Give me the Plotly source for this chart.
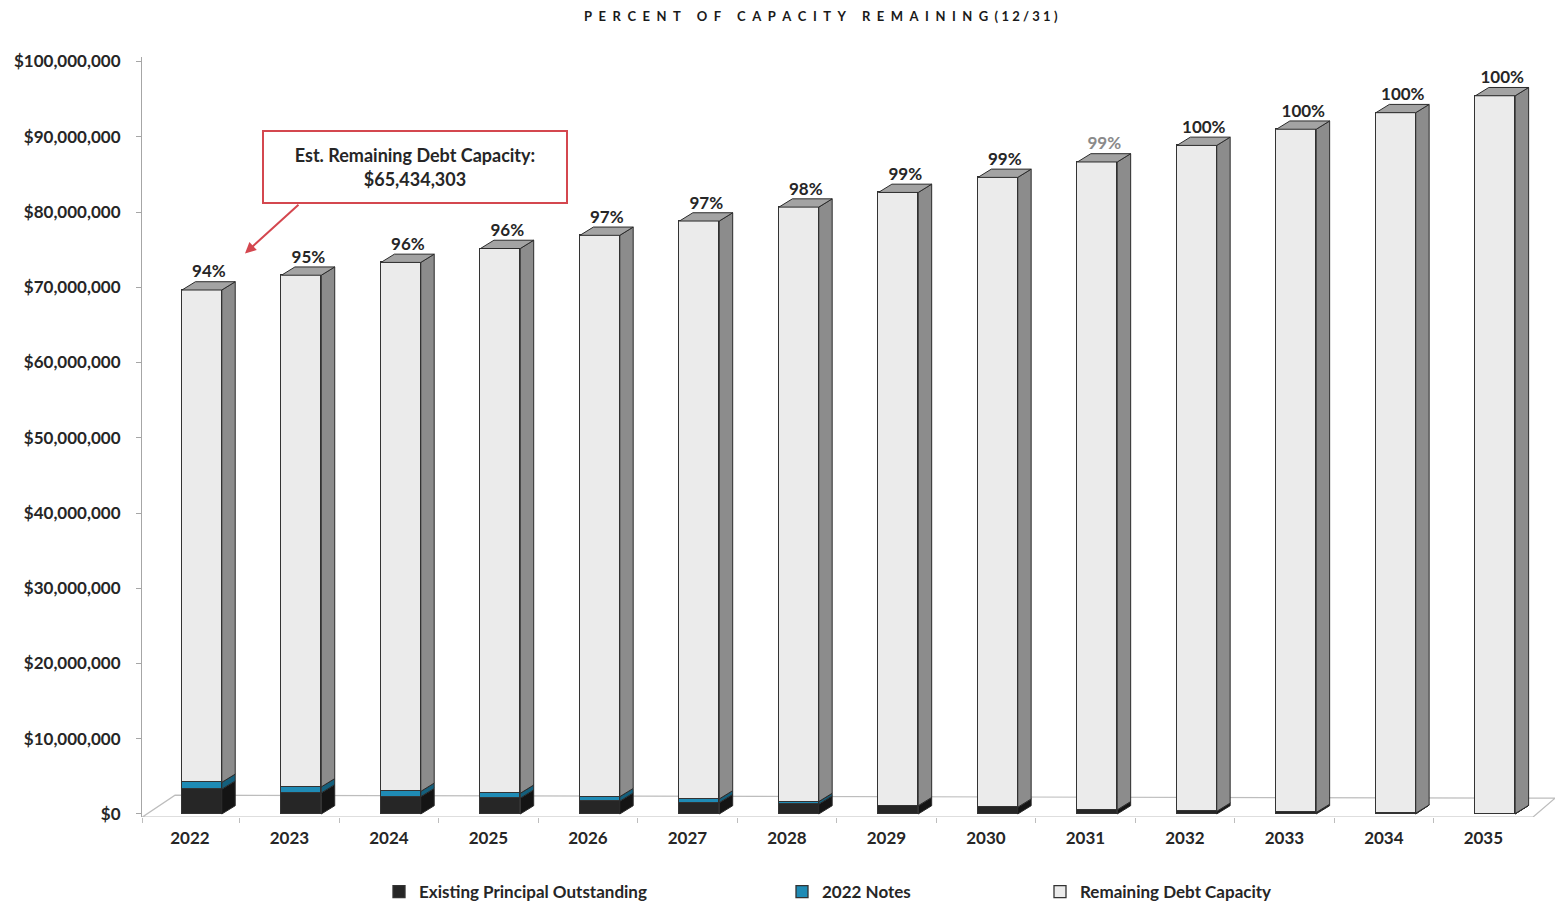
import plotly.graph_objects as go

# ---------------- data ----------------
years = ["2022", "2023", "2024", "2025", "2026", "2027", "2028",
         "2029", "2030", "2031", "2032", "2033", "2034", "2035"]
existing = [3.3e6, 2.8e6, 2.3e6, 2.1e6, 1.7e6, 1.5e6, 1.3e6,
            1.1e6, 0.9e6, 0.55e6, 0.35e6, 0.2e6, 0.1e6, 0.05e6]
notes_2022 = [0.9e6, 0.8e6, 0.7e6, 0.65e6, 0.6e6, 0.5e6, 0.35e6,
              0.0, 0.0, 0.0, 0.0, 0.0, 0.0, 0.0]
remaining = [65434303, 68.0e6, 70.3e6, 72.4e6, 74.6e6, 76.8e6, 79.0e6,
             81.5e6, 83.7e6, 86.1e6, 88.5e6, 90.8e6, 93.1e6, 95.4e6]
pct_labels = ["94%", "95%", "96%", "96%", "97%", "97%", "98%",
              "99%", "99%", "99%", "100%", "100%", "100%", "100%"]
y_ticks = [0, 10e6, 20e6, 30e6, 40e6, 50e6, 60e6, 70e6, 80e6, 90e6, 100e6]

# ---------------- styling / geometry ----------------
FONT = "Lato"
TXT = "#262626"
L_OFF = -0.08      # bar front face starts at category + L_OFF
BAR_W = 0.40       # front face width (category units)
DX = 0.135         # 3-D depth, horizontal (category units)
DY = 1.1e6         # 3-D depth, vertical (value units)
Y_MIN, Y_MAX = -0.4e6, 100.6e6
X_MIN, X_MAX = -0.482, 13.72
M_L, M_R, M_T, M_B = 142, 0, 57, 86
PLOT_H = 903 - M_T - M_B
PLOT_W = 1555 - M_L - M_R

idx = list(range(len(years)))
ex_top = [e for e in existing]
no_top = [e + n for e, n in zip(existing, notes_2022)]
tot = [e + n + r for e, n, r in zip(existing, notes_2022, remaining)]

fig = go.Figure()

series = [
    ("Existing Principal Outstanding", existing, "#262626", "#141414", "legend"),
    ("2022 Notes", notes_2022, "#1f8bb5", "#145f7c", "legend2"),
    ("Remaining Debt Capacity", remaining, "#ebebeb", "#8c8c8c", "legend3"),
]
for name, vals, col, _, lg in series:
    fig.add_trace(go.Bar(
        x=idx, y=vals, name=name, width=BAR_W, offset=L_OFF,
        marker=dict(color=col, line=dict(color="#333333", width=1.3)),
        legend=lg, hoverinfo="skip",
    ))


def side_faces(bottoms, tops):
    xs, ys = [], []
    for i, (b, t) in enumerate(zip(bottoms, tops)):
        r = idx[i] + L_OFF + BAR_W
        xs += [r, r + DX, r + DX, r, r, None]
        ys += [b, b + DY, t + DY, t, b, None]
    return xs, ys


bottoms_list = [[0] * len(idx), ex_top, no_top]
tops_list = [ex_top, no_top, tot]
for (name, vals, col, side_col, lg), bts, tps in zip(series, bottoms_list, tops_list):
    sx, sy = side_faces(bts, tps)
    fig.add_trace(go.Scatter(
        x=sx, y=sy, mode="lines", fill="toself", fillcolor=side_col,
        line=dict(color="#2b2b2b", width=1), showlegend=False, hoverinfo="skip",
    ))

# top faces
tx, ty = [], []
for i, t in enumerate(tot):
    left = idx[i] + L_OFF
    right = left + BAR_W
    tx += [left, right, right + DX, left + DX, left, None]
    ty += [t, t, t + DY, t + DY, t, None]
fig.add_trace(go.Scatter(
    x=tx, y=ty, mode="lines", fill="toself", fillcolor="#a3a3a3",
    line=dict(color="#2b2b2b", width=1), showlegend=False, hoverinfo="skip",
))

# percent labels
label_colors = [TXT] * len(idx)
label_colors[9] = "#8a8a8a"
fig.add_trace(go.Scatter(
    x=[i + 0.19 for i in idx], y=[t + DY for t in tot], mode="text",
    text=pct_labels, textposition="top center",
    textfont=dict(family=FONT, size=17, color=label_colors, weight="bold"),
    showlegend=False, hoverinfo="skip", cliponaxis=False,
))

# floor
fig.add_shape(
    type="path", xref="x", yref="y", layer="below",
    path=f"M {X_MIN + 0.005},{Y_MIN} L 13.5,{Y_MIN} L {X_MAX},2.1e6 L -0.15,2.5e6 Z",
    line=dict(color="#bdbdbd", width=1.2), fillcolor="white",
)

# annotation box + arrow
fig.add_annotation(
    x=2.26, y=86.0e6, xref="x", yref="y", showarrow=False,
    text="Est. Remaining Debt Capacity:<br>$65,434,303",
    font=dict(family=FONT, size=18, color=TXT, weight="bold"),
    bordercolor="#d4474f", borderwidth=2, bgcolor="white",
    width=300, height=68, align="center",
)
fig.add_annotation(
    x=0.553, y=74.5e6, xref="x", yref="y", text="", showarrow=True,
    ax=55, ay=-50, arrowhead=2, arrowsize=1.1, arrowwidth=2,
    arrowcolor="#d4474f", standoff=0,
)

# title (letter-spaced)
LS = "\u2009" * 4


def spaced(word):
    return LS.join(word)


title_txt = (LS + "\u00a0\u00a0\u00a0").join(spaced(w) for w in ["PERCENT", "OF", "CAPACITY", "REMAINING"]) \
    + "\u00a0\u00a0" + "\u2009\u2009".join("(12/31)")
fig.add_annotation(
    x=(821 - M_L) / PLOT_W, y=(903 - M_B - 16) / PLOT_H, xref="paper", yref="paper",
    showarrow=False, text=title_txt, xanchor="center", yanchor="middle",
    font=dict(family=FONT, size=13, color="#1a1a1a", weight="bold"),
)

leg_common = dict(orientation="h", yanchor="middle", xanchor="left",
                  font=dict(family=FONT, size=17, color=TXT, weight="bold"),
                  bgcolor="rgba(0,0,0,0)", borderwidth=0)
leg_y = (903 - M_B - 892) / PLOT_H
fig.update_layout(
    width=1555, height=903,
    margin=dict(l=M_L, r=M_R, t=M_T, b=M_B, autoexpand=False),
    plot_bgcolor="white", paper_bgcolor="white",
    barmode="stack", bargap=0,
    legend=dict(x=(379 - M_L) / PLOT_W, y=leg_y, **leg_common),
    legend2=dict(x=(782 - M_L) / PLOT_W, y=leg_y, **leg_common),
    legend3=dict(x=(1040 - M_L) / PLOT_W, y=leg_y, **leg_common),
    xaxis=dict(
        range=[X_MIN, X_MAX], tickmode="array", tickvals=idx, ticktext=years,
        ticks="", showgrid=False, zeroline=False, showline=False,
        automargin=False,
        tickfont=dict(family=FONT, size=17, color=TXT, weight="bold"),
        ticklabelstandoff=9,
        minor=dict(ticks="outside", tickmode="array",
                   tickvals=[i + 0.5 for i in idx[:-1]] + [-0.48],
                   ticklen=5, tickcolor="#bdbdbd", showgrid=False),
    ),
    yaxis=dict(
        range=[Y_MIN, Y_MAX], tickmode="array", tickvals=y_ticks,
        tickformat="$,.0f", ticks="outside", ticklen=5, tickcolor="#a6a6a6",
        showgrid=False, zeroline=False, showline=True, linecolor="#a6a6a6",
        linewidth=1.2, automargin=False,
        tickfont=dict(family=FONT, size=17, color=TXT, weight="bold"),
        ticklabelstandoff=12,
    ),
)

fig.write_html("out.html")
